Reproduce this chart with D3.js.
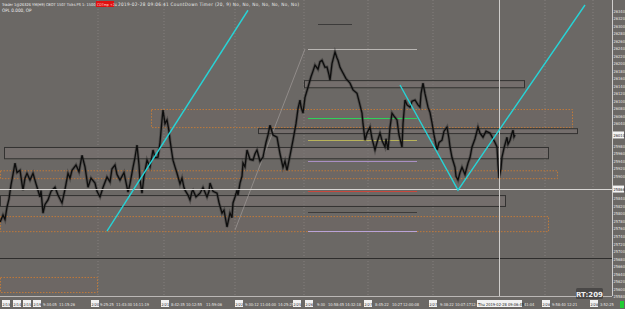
<!DOCTYPE html>
<html>
<head>
<meta charset="utf-8">
<script src="https://cdn.jsdelivr.net/npm/d3@7"></script>
<style>
  html, body { margin: 0; padding: 0; background: #6b6865; }
  svg { display: block; font-family: "Liberation Sans Narrow", "DejaVu Sans Condensed", sans-serif; }
</style>
</head>
<body>
<svg id="chart" width="625" height="309"></svg>
<script>
// price series (bar number, close)
const bars = [0,2,3,5,7,9,11,13,15,17,20,22,23,25,27,30,33,36,40,41,43,45,48,51,55,58,62,65,68,70,72,76,79,82,85,88,91,95,97,100,103,107,110,112,115,117,120,124,128,130,133,135,137,139,140,142,144,147,150,153,155,158,160,162,163,165,167,169,170,172,173,175,177,180,182,184,185,188,190,192,193,196,200,203,207,209,210,213,217,219,222,224,227,229,230,232,233,235,237,238,240,242,243,245,247,250,253,255,257,260,263,266,268,270,273,277,280,283,285,287,290,293,296,298,300,301,303,305,308,311,313,315,318,320,322,325,327,329,330,332,335,337,338,340,343,346,350,353,357,359,362,363,365,367,370,372,375,377,380,382,385,386,388,390,392,394,397,399,402,403,405,407,410,412,415,418,420,421,423,425,428,430,432,434,437,439,442,444,447,449,450,452,455,456,458,460,462,465,468,470,472,475,478,480,483,486,490,493,495,497,498,499,501,502,504,507,508,510,512,513,514,515];
const closes = [25778,25790,25797,25785,25818,25840,25877,25905,25935,25910,25916,25880,25863,25895,25908,25890,25908,25880,25845,25862,25802,25825,25837,25860,25871,25850,25829,25865,25908,25895,25916,25930,25912,25956,25925,25871,25895,25882,25860,25845,25870,25898,25885,25920,25930,25905,25890,25910,25858,25880,25924,25950,25983,25930,25890,25855,25900,25943,25925,25970,25950,25951,25990,26050,26076,26040,26050,26020,25996,25960,25943,25925,25908,25880,25895,25870,25863,25850,25837,25860,25863,25845,25855,25870,25845,25860,25882,25860,25855,25830,25802,25810,25765,25790,25802,25790,25829,25845,25863,25850,25882,25900,25935,25925,25970,25945,25943,25960,25970,25940,25951,25990,26010,26036,26010,26004,25960,25924,25940,25916,25955,25996,26040,26080,26103,26085,26068,26110,26137,26165,26180,26196,26185,26205,26209,26190,26191,26170,26156,26200,26231,26215,26209,26190,26175,26160,26148,26130,26121,26100,26068,26040,25996,26015,26031,26000,25970,25990,26015,25995,25978,26000,25970,26030,26068,26060,26050,26010,25978,26040,26103,26090,26084,26100,26103,26090,26084,26120,26148,26120,26084,26070,26042,26010,25970,25990,25996,26020,26031,26000,25978,25950,25924,25900,25890,25910,25924,25905,25935,25950,25978,26000,26031,26015,26004,26020,26015,26000,25990,25978,25930,25895,25920,25951,25975,26004,25985,25996,26015,26023,26005,26010];

// zone boxes: [startBar, endBar, top, bottom]
const solidZones = [[4, 548, 25978, 25948], [258, 577, 26028, 26015], [304, 524, 26156, 26137], [0, 505, 25850, 25821]];
const dottedZones = [[151, 572, 26079, 26031], [0, 557, 25916, 25895], [0, 548, 25794, 25754], [0, 97, 25632, 25592]];

// short levels: [startBar, endBar, price, colour]
const levels = [
  [318, 352, 26305, "#3c3b3a"],
  [308, 417, 26239, "#b9b6b3"],
  [308, 417, 26055, "#2fd05a"],
  [308, 417, 25996, "#b8b25a"],
  [308, 417, 25940, "#a98fc4"],
  [308, 417, 25861, "#c8463c"],
  [308, 417, 25805, "#3c3b3a"],
  [308, 417, 25754, "#b9a3d8"]
];
const whiteLevel = 25866;
const darkLevel = 25682;
const lastPrice = 26010;

// trend lines: [[bar, price], ...]
const trendA = [[107, 25754], [248, 26342]];
const trendV = [[400, 26143], [458, 25863], [585, 26356]];
const faintLine = [[235, 25757], [305, 26239]];

const gridBars = [98, 164, 235, 304, 368, 433, 545, 593];
const crossBar = 499;

const priceTicks = d3.range(25580, 26341, 20);
// time axis labels: [bar, text, isDate]
const timeLabels = [
  [2, "2/13", true], [13, "2/14", true], [23, "2/15", true], [33, "2/19", true],
  [43, "9:34:05", false], [59, "11:15:26", false],
  [91, "2/20", true], [100, "9:25:25", false], [116, "11:43:30", false], [133, "14:11:19", false],
  [161, "2/21", true], [171, "8:42:35", false], [186, "10:12:55", false], [206, "11:59:06", false],
  [235, "2/22", true], [245, "9:30:12", false], [260, "11:04:00", false], [278, "14:25:25", false],
  [293, "2/25", true], [305, "2/26", true], [317, "9:30", false], [328, "10:58:45", false], [345, "14:32:18", false],
  [364, "2/27", true], [375, "8:45:22", false], [392, "10:27", false], [403, "12:00:08", false],
  [429, "2/27", true], [440, "9:38:22", false], [455, "10:07:17", false], [471, "12:", false],
  [524, "41:04", false], [542, "2/28", true], [552, "9:58:40", false], [567, "12:21", false],
  [590, "2/28", true], [600, "3:52:25", false]
];

const W = 625, H = 309, plotR = 612, plotB = 296;
const svg = d3.select("#chart");
const x = d3.scaleLinear().domain([0, 612]).range([0, plotR]);
const y = d3.scaleLinear().domain([25580, 26340]).range([296.5, 11]);

svg.append("rect").attr("width", W).attr("height", H).attr("fill", "#6b6865");

// grid
svg.append("g").selectAll("line").data(gridBars).join("line")
  .attr("x1", d => x(d)).attr("x2", d => x(d))
  .attr("y1", 0).attr("y2", plotB)
  .attr("stroke", "#8a8784").attr("stroke-width", 0.8)
  .attr("stroke-dasharray", "1,2");

// zones
svg.append("g").selectAll("rect").data(dottedZones).join("rect")
  .attr("x", d => x(d[0]) + 0.5).attr("y", d => y(d[2]) + 0.5)
  .attr("width", d => x(d[1]) - x(d[0])).attr("height", d => y(d[3]) - y(d[2]))
  .attr("fill", "rgba(150,110,80,0.06)")
  .attr("stroke", "#c07a3a").attr("stroke-width", 1)
  .attr("stroke-dasharray", "1.5,1.5");

svg.append("g").selectAll("rect").data(solidZones).join("rect")
  .attr("x", d => x(d[0]) + 0.5).attr("y", d => y(d[2]) + 0.5)
  .attr("width", d => x(d[1]) - x(d[0])).attr("height", d => y(d[3]) - y(d[2]))
  .attr("fill", "#7a7371").attr("fill-opacity", 0.6)
  .attr("stroke", "#333231").attr("stroke-width", 1);

// full width levels
svg.append("line").attr("x1", 0).attr("x2", plotR)
  .attr("y1", Math.round(y(darkLevel)) + 0.5).attr("y2", Math.round(y(darkLevel)) + 0.5)
  .attr("stroke", "#2e2d2c").attr("stroke-width", 1);

// short levels
svg.append("g").selectAll("line").data(levels).join("line")
  .attr("x1", d => x(d[0])).attr("x2", d => x(d[1]))
  .attr("y1", d => Math.round(y(d[2])) + 0.5).attr("y2", d => Math.round(y(d[2])) + 0.5)
  .attr("stroke", d => d[3]).attr("stroke-width", 1.2);

// faint diagonal
const ln = d3.line().x(d => x(d[0])).y(d => y(d[1]));
svg.append("path").attr("d", ln(faintLine)).attr("fill", "none")
  .attr("stroke", "#9a9693").attr("stroke-width", 0.8);

// price
const priceData = bars.map((b, i) => [b, closes[i]]);
svg.append("path").attr("d", ln(priceData)).attr("fill", "none")
  .attr("stroke", "#2a2a2a").attr("stroke-width", 3).attr("stroke-opacity", 0.4);
svg.append("path").attr("d", ln(priceData)).attr("fill", "none")
  .attr("stroke", "#0d0d0d").attr("stroke-width", 1.3).attr("stroke-linejoin", "miter");

// white level + crosshair
svg.append("line").attr("x1", 0).attr("x2", plotR)
  .attr("y1", Math.round(y(whiteLevel)) + 0.5).attr("y2", Math.round(y(whiteLevel)) + 0.5)
  .attr("stroke", "#d8d6d4").attr("stroke-width", 1);
svg.append("line").attr("x1", x(crossBar) + 0.5).attr("x2", x(crossBar) + 0.5)
  .attr("y1", 0).attr("y2", plotB)
  .attr("stroke", "#cfcdcb").attr("stroke-width", 1);

// trend lines
[trendA, trendV].forEach(t => {
  svg.append("path").attr("d", ln(t)).attr("fill", "none")
    .attr("stroke", "#27d3d6").attr("stroke-width", 1.4);
});

// price axis
const boxed = [lastPrice, whiteLevel];
svg.append("line").attr("x1", plotR + 0.5).attr("x2", plotR + 0.5).attr("y1", 0).attr("y2", plotB)
  .attr("stroke", "#d0cecc").attr("stroke-width", 1);
svg.append("g").selectAll("text")
  .data(priceTicks.filter(t => boxed.every(b => Math.abs(y(t) - y(b)) > 6)))
  .join("text")
  .attr("x", plotR + 1.5).attr("y", d => y(d) + 1.6)
  .attr("font-size", 4).attr("fill", "#e8e6e4")
  .text(d => d);

function priceBox(p, label) {
  const g = svg.append("g");
  g.append("rect").attr("x", plotR + 1).attr("y", y(p) - 3.5).attr("width", 11).attr("height", 7)
    .attr("fill", "#f4f4f4");
  g.append("text").attr("x", plotR + 1.5).attr("y", y(p) + 1.6)
    .attr("font-size", 4).attr("fill", "#222").text(label);
}
boxed.forEach(b => priceBox(b, b));

// time axis
svg.append("line").attr("x1", 0).attr("x2", plotR).attr("y1", plotB + 0.5).attr("y2", plotB + 0.5)
  .attr("stroke", "#cfcdcb").attr("stroke-width", 0.8);
const tl = svg.append("g").selectAll("g").data(timeLabels).join("g")
  .attr("transform", d => `translate(${x(d[0])},${plotB})`);
tl.filter(d => d[2]).append("rect")
  .attr("x", 0).attr("y", 4).attr("width", 8).attr("height", 7).attr("fill", "#f2f2f2");
tl.append("text").attr("x", d => d[2] ? 0.5 : 0).attr("y", 9.6)
  .attr("font-size", d => d[2] ? 3.8 : 4)
  .attr("fill", d => d[2] ? "#222" : "#e8e6e4").text(d => d[1]);

// crosshair time box
svg.append("rect").attr("x", x(477)).attr("y", plotB + 4).attr("width", x(522) - x(477)).attr("height", 7)
  .attr("fill", "#f2f2f2");
svg.append("text").attr("x", x(478)).attr("y", plotB + 9.6).attr("font-size", 4).attr("fill", "#222")
  .text("Thu 2019-02-28 09:06:45");

// status marker
svg.append("rect").attr("x", 620).attr("y", 301).attr("width", 4).attr("height", 7).attr("fill", "#22cc33");

// RT box
svg.append("rect").attr("x", 576).attr("y", 288).attr("width", 27).attr("height", 11).attr("rx", 1.5)
  .attr("fill", "#4a4847");
svg.append("text").attr("x", 589.5).attr("y", 296.5).attr("text-anchor", "middle")
  .attr("font-family", "DejaVu Sans, sans-serif")
  .attr("font-size", 7).attr("font-weight", "bold").attr("fill", "#f0f0f0").text("RT:209");

// header
svg.append("text").attr("x", 2).attr("y", 5.5).attr("font-size", 3.9).attr("fill", "#eeeeee")
  .text("Trader 1@26326 YM(H9) CBOT 1507 Ticks PS 1: 1500");
svg.append("rect").attr("x", 96).attr("y", 1).attr("width", 18).attr("height", 6).attr("fill", "#e01010");
svg.append("text").attr("x", 97).attr("y", 5.5).attr("font-size", 3.6).attr("fill", "#ffdddd")
  .text("CDTmp +24");
svg.append("text").attr("x", 118).attr("y", 5.5).attr("font-size", 4.6).attr("fill", "#eeeeee")
  .attr("textLength", 181).attr("lengthAdjust", "spacing")
  .text("2019-02-28 09:06:41  CountDown Timer  (20, 9)  No, No, No, No, No, No, No)");
svg.append("text").attr("x", 2).attr("y", 12).attr("font-size", 4.6).attr("fill", "#eeeeee")
  .text("OPL 0.000, OP");
</script>
</body>
</html>
